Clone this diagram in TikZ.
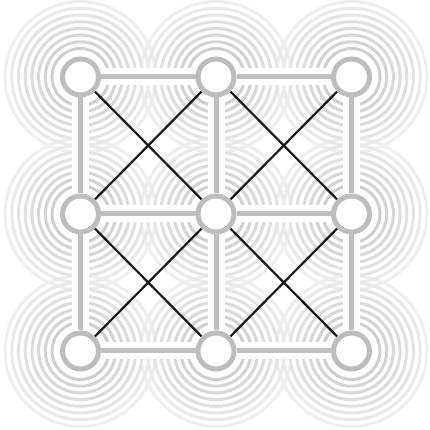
\documentclass[tikz,border=0pt]{standalone}
\pgfdeclarelayer{bg}
\pgfdeclarelayer{mid}
\pgfsetlayers{bg,mid,main}
\definecolor{nodegray}{gray}{0.74}
\definecolor{edgegray}{gray}{0.75}
\begin{document}
\begin{tikzpicture}[x=1pt,y=1pt,
  vtx/.style={circle, draw=nodegray, line width=5pt, fill=white, minimum size=36pt, inner sep=0pt},
  halo/.style={line width=17pt, white},
  edgeline/.style={line width=5pt, edgegray},
  diag/.style={line width=2.2pt, black!90},
  ring/.style={line width=3pt}]
\useasboundingbox (0,0) rectangle (430,430);
% nodes
\node[vtx] (n11) at (80.5,353) {};
\node[vtx] (n12) at (216,353) {};
\node[vtx] (n13) at (351.5,353) {};
\node[vtx] (n21) at (80.5,216) {};
\node[vtx] (n22) at (216,216) {};
\node[vtx] (n23) at (351.5,216) {};
\node[vtx] (n31) at (80.5,79) {};
\node[vtx] (n32) at (216,79) {};
\node[vtx] (n33) at (351.5,79) {};
% background and rings
\begin{pgfonlayer}{bg}
\fill[white] (0,0) rectangle (430,430);
\foreach \k in {7,6,...,0} {
  \pgfmathsetmacro\rr{28.5+6.7*\k}
  \pgfmathsetmacro\ss{19-1.8*\k}
  \foreach \c in {n11,n12,n13,n21,n22,n23,n31,n32,n33}
    \draw[ring, color=black!\ss] (\c.center) circle[radius=\rr];
}
\end{pgfonlayer}
% edges and diagonals
\begin{pgfonlayer}{mid}
\foreach \a/\b in {n11/n12,n12/n13,n21/n22,n22/n23,n31/n32,n32/n33,n11/n21,n21/n31,n12/n22,n22/n32,n13/n23,n23/n33}
  \draw[halo] (\a) -- (\b);
\foreach \a/\b in {n11/n12,n12/n13,n21/n22,n22/n23,n31/n32,n32/n33,n11/n21,n21/n31,n12/n22,n22/n32,n13/n23,n23/n33}
  \draw[edgeline] (\a) -- (\b);
\foreach \a/\b in {n11/n22,n12/n21,n12/n23,n13/n22,n21/n32,n22/n31,n22/n33,n23/n32}
  \draw[diag] (\a) -- (\b);
\end{pgfonlayer}
\end{tikzpicture}
\end{document}
